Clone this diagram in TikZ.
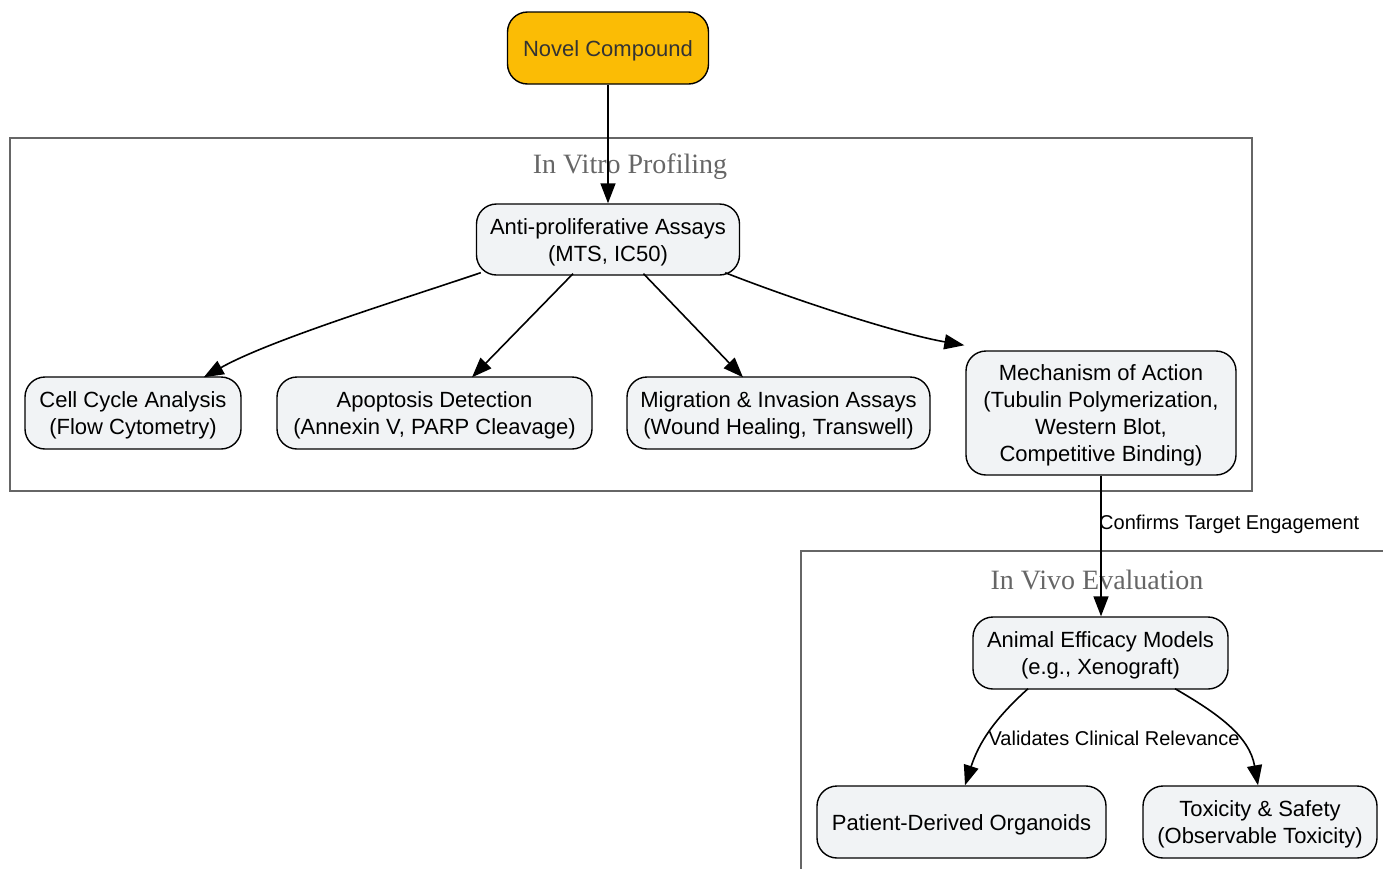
\documentclass[tikz,border=0pt]{standalone}
\usepackage{fontspec}
\setmainfont{Liberation Sans}
\newfontfamily\clusterfont{Liberation Serif}
\usetikzlibrary{arrows.meta,calc}
\definecolor{nodefill}{HTML}{F1F3F5}
\definecolor{gold}{HTML}{FBBC05}
\definecolor{clgray}{HTML}{666666}
\definecolor{textdark}{HTML}{333333}
\newcommand\mytopstrut{\rule{0pt}{21.5pt}}
\begin{document}
\begin{tikzpicture}[x=1pt,y=-1pt,
  box/.style={draw=black, line width=1.4pt, rounded corners=20pt, fill=nodefill,
    align=center, font=\fontsize{22}{27}\selectfont, inner sep=0pt, minimum height=72pt},
  cluster/.style={draw=clgray, line width=1.6pt},
  cltitle/.style={text=clgray, font=\clusterfont\fontsize{28}{32}\selectfont, inner sep=0pt},
  arr/.style={draw=black, line width=1.6pt, -{Triangle[length=20pt,width=15pt]}},
  elabel/.style={font=\fontsize{20}{24}\selectfont, inner sep=0pt}]
\useasboundingbox (0,0) rectangle (1383,868);
\clip (0,0) rectangle (1383,868);
% clusters
\draw[cluster] (10,138) rectangle (1252,491);
\draw[cluster] (801,551) rectangle (1420,900);
\node[cltitle] (tvitro) at (630,166.5) {In Vitro Profiling};
\node[cltitle] (tvivo) at (1097,579.5) {In Vivo Evaluation};
% nodes
\node[box, fill=gold, text=textdark, minimum width=201pt] (novel) at (608,48) {\mytopstrut Novel Compound};
\node[box, minimum width=263pt, minimum height=71pt] (anti) at (608,239.5) {\mytopstrut Anti-proliferative Assays\\(MTS, IC50)};
\node[box, minimum width=216pt] (cell) at (133,413) {\mytopstrut Cell Cycle Analysis\\(Flow Cytometry)};
\node[box, minimum width=315pt] (apop) at (434.5,413) {\mytopstrut Apoptosis Detection\\(Annexin V, PARP Cleavage)};
\node[box, minimum width=303pt] (mig) at (778.5,413) {\mytopstrut Migration \& Invasion Assays\\(Wound Healing, Transwell)};
\node[box, minimum width=270pt, minimum height=124pt] (mech) at (1101,413) {\mytopstrut Mechanism of Action\\(Tubulin Polymerization,\\Western Blot,\\Competitive Binding)};
\node[box, minimum width=255pt] (animal) at (1100.5,653) {\mytopstrut Animal Efficacy Models\\(e.g., Xenograft)};
\node[box, minimum width=289pt] (pdo) at (961.5,822) {\mytopstrut Patient-Derived Organoids};
\node[box, minimum width=234pt] (tox) at (1260,822) {\mytopstrut Toxicity \& Safety\\(Observable Toxicity)};
% edges
\draw[arr] (novel) -- (anti);
\draw[arr] ([xshift=5pt,yshift=3pt]anti.south west) .. controls (400,300) and (270,340) .. ([xshift=-38pt,yshift=-1pt]cell.north east);
\draw[arr] ([xshift=-35pt,yshift=2pt]anti.south) -- ([xshift=37.5pt,yshift=-1pt]apop.north);
\draw[arr] ([xshift=35.5pt,yshift=2pt]anti.south) -- ([xshift=-35.5pt,yshift=-1pt]mig.north);
\draw[arr] ([xshift=-15pt,yshift=3pt]anti.south east) .. controls (800,302) and (900,334) .. ([xshift=-1pt,yshift=5pt]mech.north west);
\draw[arr] (mech.south) -- (mech.south |- animal.north);
\node[elabel, anchor=west] (lconf) at (1099,524) {Confirms Target Engagement};
\draw[arr] ([xshift=-72.5pt,yshift=1pt]animal.south) to[out=222,in=72] ([xshift=3.5pt]pdo.north);
\draw[arr] ([xshift=74.5pt,yshift=1pt]animal.south) to[out=330,in=100] ([xshift=-2pt]tox.north);
\node[elabel] (lval) at (1114,738) {Validates Clinical Relevance};
\end{tikzpicture}
\end{document}
